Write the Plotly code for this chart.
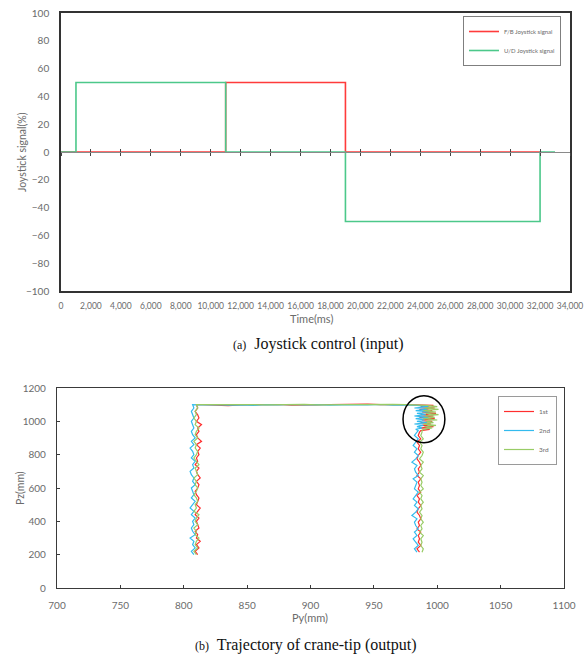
import plotly.graph_objects as go

# ---------------- data: (a) joystick control ----------------
fb_time = [0, 11000, 11000, 19000, 19000, 32000]
fb_signal = [0, 0, 50, 50, 0, 0]
ud_time = [0, 1000, 1000, 11000, 11000, 19000, 19000, 32000, 32000, 33000]
ud_signal = [0, 0, 50, 50, 0, 0, -50, -50, 0, 0]

# ---------------- data: (b) crane-tip trajectory ----------------
pz_up = [200, 220, 240, 260, 280, 300, 320, 340, 360, 380, 400, 420, 440, 460, 480,
         500, 520, 540, 560, 580, 600, 620, 640, 660, 680, 700, 720, 740, 760, 780,
         800, 820, 840, 860, 880, 900, 920, 940, 960, 980, 1000, 1020, 1040, 1060,
         1080, 1100]
py_up_1st = [811, 809, 812, 810, 813, 810, 811, 809, 812, 811,
             810, 812, 809, 811, 813, 810, 811, 812, 810, 809,
             811, 812, 810, 813, 811, 810, 812, 809, 811, 810,
             812, 811, 813, 810, 814, 811, 810, 812, 811, 814,
             810, 812, 811, 809, 811, 810]
py_up_2nd = [808, 806, 809, 807, 808, 805, 809, 807, 806, 808,
             807, 809, 806, 808, 805, 807, 809, 806, 808, 807,
             806, 809, 807, 808, 806, 805, 808, 807, 809, 806,
             808, 807, 805, 808, 806, 809, 807, 806, 808, 807,
             806, 808, 807, 806, 808, 807]
py_up_3rd = [810, 808, 811, 809, 810, 812, 809, 810, 808, 811,
             809, 810, 812, 808, 810, 809, 811, 810, 808, 810,
             811, 809, 810, 808, 811, 810, 809, 812, 810, 808,
             810, 811, 809, 810, 808, 811, 809, 810, 812, 809,
             810, 808, 810, 809, 811, 810]

py_top = [815, 825, 835, 845, 855, 865, 875, 885, 895, 905, 915, 925, 935, 945, 955, 965, 975]
pz_top_1st = [1100, 1096, 1094, 1099, 1100, 1098, 1101, 1097, 1100, 1099, 1101, 1102, 1107,
              1104, 1100, 1101, 1100]
pz_top_2nd = [1098, 1100, 1097, 1099, 1096, 1100, 1099, 1101, 1098, 1100, 1097, 1099, 1100,
              1098, 1101, 1097, 1099]
pz_top_3rd = [1100, 1101, 1099, 1102, 1100, 1099, 1101, 1100, 1102, 1099, 1100, 1101, 1099,
              1103, 1100, 1102, 1100]

pz_corner = [1096, 1088, 1080, 1072, 1064, 1056, 1048, 1040, 1032, 1024, 1016, 1008, 1000,
             992, 984, 976, 968, 960, 952, 944]
py_corner_1st = [997, 987, 998, 986, 996, 988, 999, 987, 997, 986, 998, 988, 996, 987, 995,
                 988, 997, 986, 994, 987]
py_corner_2nd = [984, 993, 982, 992, 983, 994, 984, 991, 982, 993, 983, 990, 984, 992, 982,
                 989, 984, 988, 983, 985]
py_corner_3rd = [992, 1000, 990, 1001, 989, 999, 991, 1001, 990, 998, 989, 1000, 991, 997,
                 989, 999, 990, 996, 989, 988]

pz_down = [935, 915, 895, 875, 855, 835, 815, 795, 775, 755, 735, 715, 695, 675, 655, 635,
           615, 595, 575, 555, 535, 515, 495, 475, 455, 435, 415, 395, 375, 355, 335, 315,
           295, 275, 255, 235, 215]
py_down_1st = [986, 985, 987, 984, 986, 985, 987, 985, 984, 986,
               987, 985, 986, 984, 987, 985, 986, 985, 987, 984,
               986, 985, 987, 985, 984, 986, 987, 985, 986, 984,
               987, 985, 986, 985, 987, 984, 986]
py_down_2nd = [984, 982, 985, 983, 981, 984, 982, 985, 983, 980,
               984, 982, 983, 985, 981, 984, 983, 982, 985, 983,
               981, 984, 982, 985, 983, 980, 984, 982, 983, 985,
               982, 984, 981, 983, 985, 982, 984]
py_down_3rd = [988, 987, 989, 986, 988, 987, 989, 988, 986, 989,
               987, 988, 986, 989, 987, 988, 987, 989, 986, 988,
               987, 989, 987, 988, 986, 988, 987, 989, 987, 988,
               986, 989, 987, 988, 987, 989, 988]

# highlighted oscillation region (ellipse, data units)
circle_py = [973, 1006]
circle_pz = [872, 1154]

# ---------------- layout geometry ----------------
W, H = 585, 657
def px(x):
    return x / W
def py(y):
    return 1 - y / H

top_x = [px(61), px(570)]
top_y = [py(291), py(13)]
bot_x = [px(57), px(564)]
bot_y = [py(588), py(388)]
zero_pos = (top_y[0] + top_y[1]) / 2

FONT = "Lato, Open Sans, sans-serif"
GRAY = "#6b6b6b"
RED = "#ff3b3b"
GREEN = "#4cc88a"
C1, C2, C3 = "#ff2e2e", "#33bbee", "#99cc66"

fig = go.Figure()

fig.add_trace(go.Scatter(x=fb_time, y=fb_signal, mode="lines", name="F/B Joystick signal",
                         line=dict(color=RED, width=1.6), xaxis="x", yaxis="y", legend="legend"))
fig.add_trace(go.Scatter(x=ud_time, y=ud_signal, mode="lines", name="U/D Joystick signal",
                         line=dict(color=GREEN, width=1.6), xaxis="x", yaxis="y", legend="legend"))
# helpers to render the zero-line axis
for ax in ["x2", "x3"]:
    fig.add_trace(go.Scatter(x=[None], y=[None], xaxis=ax, yaxis="y", showlegend=False,
                             hoverinfo="skip"))

runs = [
    ("1st", C1, py_up_1st, py_corner_1st, py_down_1st, pz_top_1st),
    ("2nd", C2, py_up_2nd, py_corner_2nd, py_down_2nd, pz_top_2nd),
    ("3rd", C3, py_up_3rd, py_corner_3rd, py_down_3rd, pz_top_3rd),
]
for name, col, up, corner, down, ztop in runs:
    xs = up + py_top + corner + down
    zs = pz_up + ztop + pz_corner + pz_down
    fig.add_trace(go.Scatter(x=xs, y=zs, mode="lines", name=name,
                             line=dict(color=col, width=1.2), xaxis="x4", yaxis="y2",
                             legend="legend2"))

axis_common = dict(showgrid=False, zeroline=False, showline=True, mirror=True)

fig.update_layout(
    width=W, height=H, margin=dict(l=0, r=0, t=0, b=0, autoexpand=False),
    paper_bgcolor="white", plot_bgcolor="white",
    font=dict(family=FONT, color=GRAY),
    xaxis=dict(domain=top_x, anchor="y", range=[0, 34000], dtick=2000, tickformat=",",
               linecolor="#333333", linewidth=1.6, ticks="", ticklabelstandoff=6,
               tickfont=dict(size=8.5, color=GRAY), **axis_common),
    xaxis2=dict(overlaying="x", anchor="free", position=zero_pos, range=[0, 34000],
                dtick=2000, showticklabels=False, ticks="outside", ticklen=3,
                tickcolor="#444444", linecolor="#8a8a8a", linewidth=1,
                showgrid=False, zeroline=False, showline=True),
    xaxis3=dict(overlaying="x", anchor="free", position=zero_pos, range=[0, 34000],
                dtick=2000, showticklabels=False, ticks="inside", ticklen=3,
                tickcolor="#444444", showline=False, showgrid=False, zeroline=False),
    yaxis=dict(domain=top_y, anchor="x", range=[-100, 100], dtick=20,
               linecolor="#333333", linewidth=1.6, ticks="", ticklabelstandoff=8,
               tickfont=dict(size=10, color=GRAY), **axis_common),
    xaxis4=dict(domain=bot_x, anchor="y2", range=[700, 1100], dtick=50,
                linecolor="#3a3a3a", linewidth=1.3, ticks="inside", ticklen=3,
                tickcolor="#3a3a3a", ticklabelstandoff=8,
                tickfont=dict(size=10, color=GRAY), **axis_common),
    yaxis2=dict(domain=bot_y, anchor="x4", range=[0, 1200], dtick=200,
                linecolor="#3a3a3a", linewidth=1.3, ticks="inside", ticklen=3,
                tickcolor="#3a3a3a", ticklabelstandoff=8,
                tickfont=dict(size=10, color=GRAY), **axis_common),
    legend=dict(x=px(561), y=py(16), xanchor="right", yanchor="top",
                bgcolor="white", bordercolor="#7f7f7f", borderwidth=1,
                font=dict(size=6, color=GRAY, family=FONT), itemwidth=30,
                tracegroupgap=0),
    legend2=dict(x=px(557), y=py(396), xanchor="right", yanchor="top",
                 bgcolor="white", bordercolor="#9a9a9a", borderwidth=1,
                 font=dict(size=6.5, color=GRAY, family=FONT), itemwidth=30,
                 tracegroupgap=0),
    showlegend=True,
)

fig.add_shape(type="circle", xref="x4", yref="y2",
              x0=circle_py[0], x1=circle_py[1], y0=circle_pz[0], y1=circle_pz[1],
              line=dict(color="black", width=1.5))

ann = [
    dict(text="Joystick signal(%)", x=px(22), y=py(152), textangle=-90,
         font=dict(size=10.5, color=GRAY)),
    dict(text="Time(ms)", x=px(311), y=py(318), font=dict(size=11, color=GRAY)),
    dict(text="Pz(mm)", x=px(20), y=py(488), textangle=-90, font=dict(size=10.5, color=GRAY)),
    dict(text="Py(mm)", x=px(310), y=py(617), font=dict(size=11, color=GRAY)),
    dict(text="<span style='font-size:12px'>(a)</span>  Joystick control (input)",
         x=px(318), y=py(344), font=dict(size=16, color="#111111", family="Liberation Serif")),
    dict(text="<span style='font-size:12px'>(b)</span>  Trajectory of crane-tip (output)",
         x=px(306), y=py(645), font=dict(size=16, color="#111111", family="Liberation Serif")),
]
for a in ann:
    fig.add_annotation(xref="paper", yref="paper", showarrow=False,
                       xanchor="center", yanchor="middle", **a)

fig.write_html("out.html", config={"displayModeBar": False},
               post_script="document.body.style.margin='0';document.body.style.overflow='hidden';")
